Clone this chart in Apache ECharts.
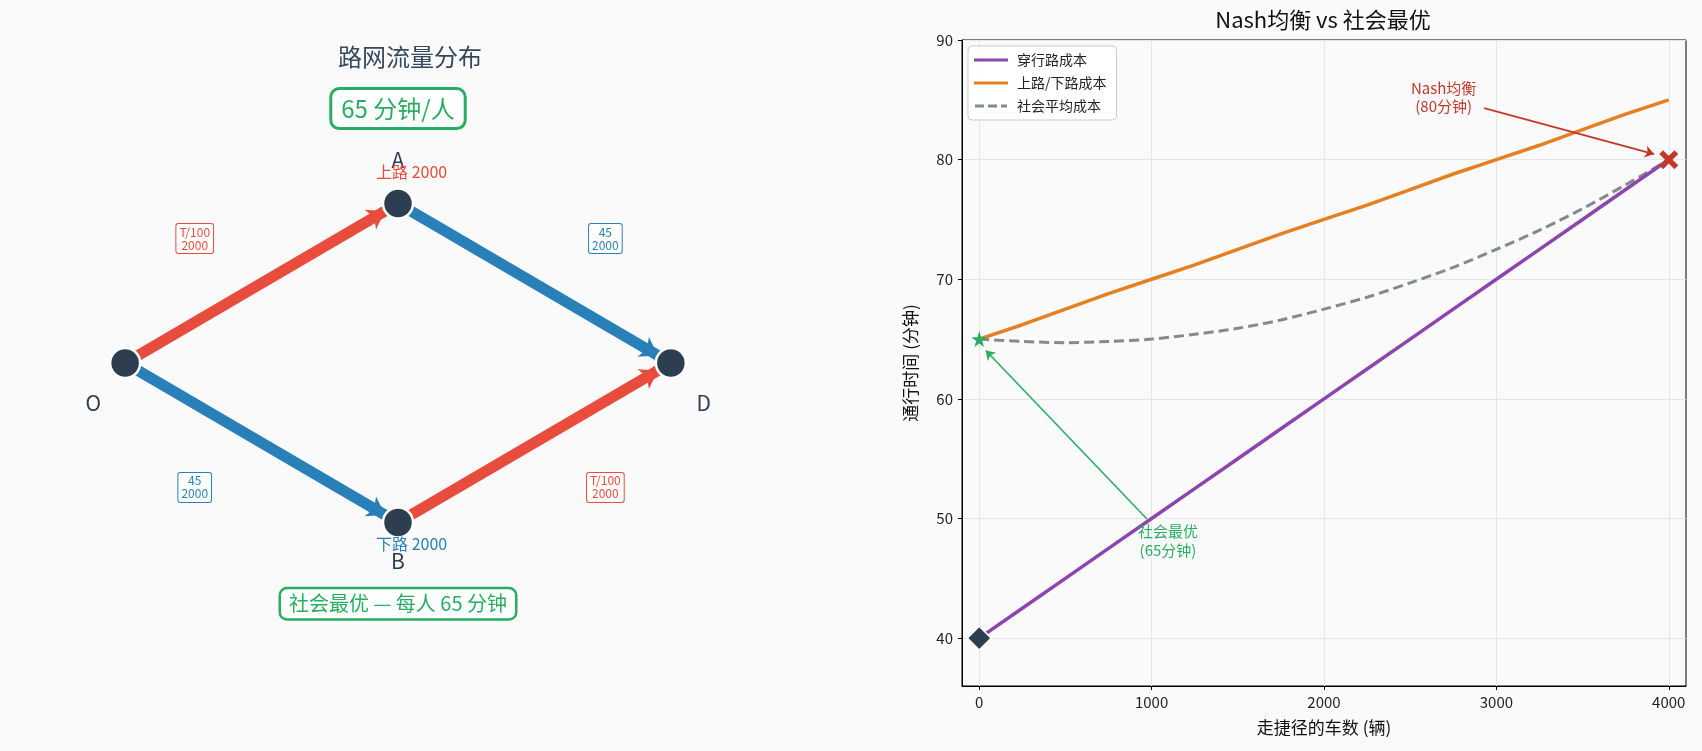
<!DOCTYPE html>
<html>
<head>
<meta charset="utf-8">
<script src="https://cdn.jsdelivr.net/npm/echarts@6/dist/echarts.min.js"></script>
<style>
  * { margin: 0; padding: 0; }
  body { background: #fafafa; }
  #main { width: 1702px; height: 751px; }
</style>
</head>
<body>
<div id="main"></div>
<script>
// ---- right panel: cost curves (x = cars taking the shortcut) ----
var carsOnShortcut = [0, 250, 500, 750, 1000, 1250, 1500, 1750, 2000, 2250, 2500, 2750, 3000, 3250, 3500, 3750, 4000];
var shortcutCost   = [40, 42.5, 45, 47.5, 50, 52.5, 55, 57.5, 60, 62.5, 65, 67.5, 70, 72.5, 75, 77.5, 80];
var sideRoadCost   = [65, 66.2, 67.5, 68.8, 70, 71.2, 72.5, 73.8, 75, 76.2, 77.5, 78.8, 80, 81.2, 82.5, 83.8, 85];
var socialAvgCost  = [65, 64.8, 64.7, 64.8, 65, 65.4, 65.9, 66.6, 67.5, 68.5, 69.7, 71.0, 72.5, 74.1, 75.9, 77.9, 80];
var xTicks = [0, 1000, 2000, 3000, 4000];
var yTicks = [40, 50, 60, 70, 80, 90];
var nashPoint = [4000, 80];
var optimumPoint = [0, 65];
var startPoint = [0, 40];
var nashMinutes = 80;
var optimumMinutes = 65;

// ---- left panel: road network ----
var nodeNames = ['O', 'A', 'B', 'D'];
var nodeX = [0, 1, 1, 2];
var nodeY = [0, 1, -1, 0];
var linkFrom = ['O', 'A', 'O', 'B'];
var linkTo   = ['A', 'D', 'B', 'D'];
var linkCost = ['T/100', '45', '45', 'T/100'];
var linkFlow = [2000, 2000, 2000, 2000];
var routeNames = ['上路', '下路'];
var routeFlow = [2000, 2000];

var FONT = '"Noto Sans CJK SC", "Noto Sans", sans-serif';
var RED = '#e74c3c', BLUE = '#2980b9', DARK = '#2c3e50', GREEN = '#27ae60';

var chart = echarts.init(document.getElementById('main'));

function costColor(c) { return c === '45' ? BLUE : RED; }

function textItem(pos, text, color, size, extra) {
  var label = { show: true, position: 'inside', formatter: text, color: color, fontSize: size, fontFamily: FONT };
  for (var k in extra) label[k] = extra[k];
  return { value: pos, label: label };
}

// positions of the edge cost boxes (network units), one per link
var costBoxAt = [[0.255, 0.78], [1.76, 0.78], [0.255, -0.78], [1.76, -0.78]];

var networkTexts = [
  textItem([1.0, 1.27], nodeNames[1], DARK, 21),
  textItem([1.05, 1.2], routeNames[0] + ' ' + routeFlow[0], RED, 16),
  textItem([1.0, -1.24], nodeNames[2], DARK, 21),
  textItem([1.05, -1.135], routeNames[1] + ' ' + routeFlow[1], BLUE, 16),
  textItem([-0.117, -0.25], nodeNames[0], DARK, 21),
  textItem([2.12, -0.25], nodeNames[3], DARK, 21),
  textItem([1.0, 1.595], optimumMinutes + ' 分钟/人', GREEN, 24, {
    backgroundColor: '#fff', borderColor: GREEN, borderWidth: 3, borderRadius: 7, padding: [7, 9, 6, 9]
  }),
  textItem([1.0, -1.51], '社会最优 — 每人 ' + optimumMinutes + ' 分钟', GREEN, 20, {
    backgroundColor: '#fff', borderColor: GREEN, borderWidth: 2.5, borderRadius: 6, padding: [5, 8, 4, 8]
  })
];
costBoxAt.forEach(function (p, i) {
  var c = costColor(linkCost[i]);
  networkTexts.push(textItem(p, linkCost[i] + '\n' + linkFlow[i], c, 12, {
    lineHeight: 13, backgroundColor: '#fff', borderColor: c, borderWidth: 1, borderRadius: 2, padding: [2, 3, 1, 3]
  }));
});

var plainNum = function (v) { return String(v); };

var option = {
  backgroundColor: '#fafafa',
  animation: false,
  textStyle: { fontFamily: FONT },
  title: [
    { text: '路网流量分布', left: 405, top: 40, textAlign: 'center',
      textStyle: { fontSize: 24, fontWeight: 'normal', color: '#34495e', fontFamily: FONT } },
    { text: 'Nash均衡 vs 社会最优', left: 1318, top: 4, textAlign: 'center',
      textStyle: { fontSize: 22, fontWeight: 'normal', color: '#111', fontFamily: FONT } }
  ],
  legend: {
    data: [
      { name: '穿行路成本', icon: 'path://M0,0H34V3H0Z' },
      { name: '上路/下路成本', icon: 'path://M0,0H34V3H0Z' },
      { name: '社会平均成本', icon: 'path://M2,0H11V3H2Z M15,0H24V3H15Z M28,0H34V3H28Z' }
    ],
    orient: 'vertical', left: 968, top: 46,
    padding: [7, 10, 7, 6], itemGap: 9, itemWidth: 34, itemHeight: 3,
    backgroundColor: 'rgba(255,255,255,0.85)', borderColor: '#ccc', borderWidth: 1, borderRadius: 4,
    textStyle: { fontSize: 14, color: '#222', fontFamily: FONT, padding: [0, 0, 0, 4] }
  },
  grid: [
    { left: 962, top: 40, width: 724, height: 646, show: true, borderColor: '#000', borderWidth: 1, backgroundColor: '#fafafa' },
    { left: 16, top: 44, width: 764, height: 638 }
  ],
  xAxis: [
    { type: 'value', gridIndex: 0, min: -100, max: 4100,
      name: '走捷径的车数 (辆)', nameLocation: 'middle', nameGap: 33,
      nameTextStyle: { fontSize: 17, color: '#111', fontFamily: FONT },
      axisLine: { show: true, onZero: false, lineStyle: { color: '#000' } },
      axisTick: { show: true, length: 4, customValues: xTicks, lineStyle: { color: '#000' } },
      axisLabel: { customValues: xTicks, formatter: plainNum, fontSize: 15, color: '#222', margin: 9, fontFamily: FONT },
      splitLine: { show: true, lineStyle: { color: '#e6e6e6', width: 1 } } },
    { type: 'value', gridIndex: 1, min: -0.4, max: 2.4, show: false }
  ],
  yAxis: [
    { type: 'value', gridIndex: 0, min: 36, max: 90,
      name: '通行时间 (分钟)', nameLocation: 'middle', nameGap: 43, nameRotate: 90,
      nameTextStyle: { fontSize: 17, color: '#111', fontFamily: FONT },
      axisLine: { show: true, onZero: false, lineStyle: { color: '#000' } },
      axisTick: { show: true, length: 4, customValues: yTicks, lineStyle: { color: '#000' } },
      axisLabel: { customValues: yTicks, formatter: plainNum, fontSize: 15, color: '#222', margin: 9, fontFamily: FONT },
      splitLine: { show: true, lineStyle: { color: '#e6e6e6', width: 1 } } },
    { type: 'value', gridIndex: 1, min: -2, max: 2, show: false }
  ],
  series: [
    { name: '社会平均成本', type: 'line', xAxisIndex: 0, yAxisIndex: 0, symbol: 'none', smooth: 0.3,
      data: carsOnShortcut.map(function (x, i) { return [x, socialAvgCost[i]]; }),
      lineStyle: { color: '#7f8c8d', width: 3, type: [10, 5] }, itemStyle: { color: '#7f8c8d' }, z: 2 },
    { name: '穿行路成本', type: 'line', xAxisIndex: 0, yAxisIndex: 0, symbol: 'none',
      data: carsOnShortcut.map(function (x, i) { return [x, shortcutCost[i]]; }),
      lineStyle: { color: '#8e44ad', width: 3.5 }, itemStyle: { color: '#8e44ad' }, z: 3 },
    { name: '上路/下路成本', type: 'line', xAxisIndex: 0, yAxisIndex: 0, symbol: 'none',
      data: carsOnShortcut.map(function (x, i) { return [x, sideRoadCost[i]]; }),
      lineStyle: { color: '#e67e22', width: 3.5 }, itemStyle: { color: '#e67e22' }, z: 3 },
    // markers + annotation arrows
    { type: 'scatter', xAxisIndex: 0, yAxisIndex: 0, clip: false, silent: true, z: 5,
      itemStyle: { opacity: 1 },
      data: [
        { value: startPoint, symbol: 'diamond', symbolSize: 24,
          itemStyle: { color: DARK, borderColor: '#fff', borderWidth: 1.5, opacity: 1 } },
        { value: optimumPoint, symbol: 'path://M50,0 L61,35 L98,35 L68,57 L79,91 L50,70 L21,91 L32,57 L2,35 L39,35 Z',
          symbolSize: 16, itemStyle: { color: GREEN, opacity: 1 } },
        { value: nashPoint, symbol: 'path://M0,20 L20,0 L50,30 L80,0 L100,20 L70,50 L100,80 L80,100 L50,70 L20,100 L0,80 L30,50 Z',
          symbolSize: 19, itemStyle: { color: '#c0392b', opacity: 1 } }
      ],
      markLine: {
        silent: true, symbol: ['none', 'arrow'], symbolSize: 9,
        label: { show: false },
        data: [
          [{ coord: [2929, 84.3], lineStyle: { color: '#c0392b', width: 1.8, type: 'solid' } },
           { coord: [3915, 80.47] }],
          [{ coord: [973, 49.96], lineStyle: { color: GREEN, width: 1.6, type: 'solid' }, symbolSize: 7 },
           { coord: [38, 64.05] }]
        ]
      } },
    // annotation texts
    { type: 'scatter', xAxisIndex: 0, yAxisIndex: 0, clip: false, silent: true, z: 6,
      symbol: 'circle', symbolSize: 1, itemStyle: { color: 'transparent', opacity: 1 },
      data: [
        textItem([2694, 85.22], 'Nash均衡\n(' + nashMinutes + '分钟)', '#c0392b', 15, { lineHeight: 18 }),
        textItem([1095, 48.15], '社会最优\n(' + optimumMinutes + '分钟)', GREEN, 15, { lineHeight: 19 })
      ] },
    // network
    { type: 'graph', coordinateSystem: 'cartesian2d', xAxisIndex: 1, yAxisIndex: 1,
      symbol: 'circle', symbolSize: 30, silent: true, z: 3,
      itemStyle: { color: DARK, borderColor: '#fff', borderWidth: 2.5 },
      label: { show: false },
      edgeSymbol: ['none', 'arrow'], edgeSymbolSize: 17,
      data: nodeNames.map(function (n, i) { return { name: n, value: [nodeX[i], nodeY[i]] }; }),
      links: linkFrom.map(function (f, i) {
        var c = costColor(linkCost[i]);
        return { source: f, target: linkTo[i], lineStyle: { color: c, width: 11, opacity: 1, curveness: 0 } };
      }) },
    { type: 'scatter', xAxisIndex: 1, yAxisIndex: 1, clip: false, silent: true, z: 6,
      symbol: 'circle', symbolSize: 1, itemStyle: { color: 'transparent', opacity: 1 },
      data: networkTexts }
  ]
};

chart.setOption(option);
</script>
</body>
</html>
